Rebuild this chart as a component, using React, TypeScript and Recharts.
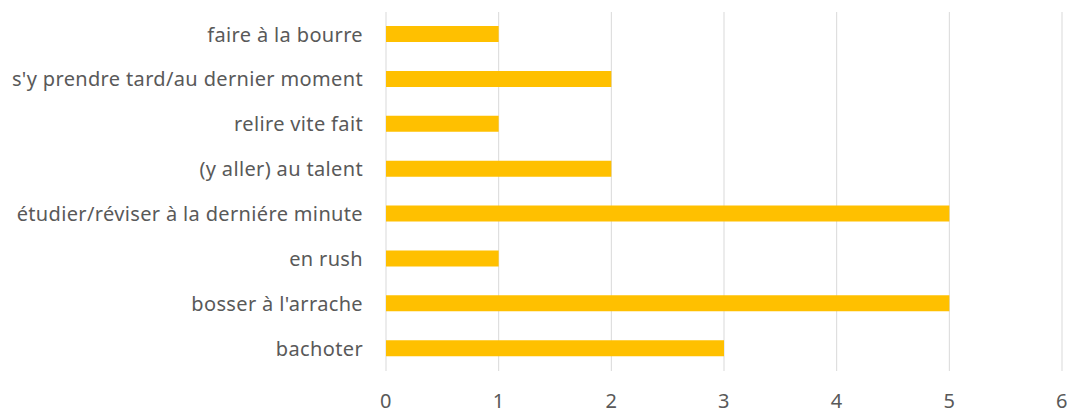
import React from "react";
import { BarChart, Bar, XAxis, YAxis, CartesianGrid } from "recharts";

const categories = [
  "faire à la bourre",
  "s'y prendre tard/au dernier moment",
  "relire vite fait",
  "(y aller) au talent",
  "étudier/réviser à la derniére minute",
  "en rush",
  "bosser à l'arrache",
  "bachoter",
];
const values = [1, 2, 1, 2, 5, 1, 5, 3];
const xTicks = [0, 1, 2, 3, 4, 5, 6];

const data = categories.map((name, i) => ({ name, value: values[i] }));

const tickStyle = { fill: "#595959", fontSize: 20, fontFamily: "Noto Sans", letterSpacing: "0.35px" };

export default function App() {
  return (
    <div style={{ position: "absolute", left: 0, top: 0, width: 1067, height: 409, background: "#fff" }}>
      <BarChart
        width={1067}
        height={409}
        data={data}
        layout="vertical"
        margin={{ top: 12, right: 5, bottom: 0, left: 0 }}
      >
        <CartesianGrid horizontal={false} stroke="#d9d9d9" />
        <XAxis
          type="number"
          domain={[0, 6]}
          ticks={xTicks}
          height={38}
          axisLine={false}
          tickLine={false}
          tickSize={0}
          tickMargin={23}
          tick={tickStyle}
          interval={0}
        />
        <YAxis
          type="category"
          dataKey="name"
          width={386}
          axisLine={false}
          tickLine={false}
          tickSize={0}
          tickMargin={23}
          interval={0}
          tick={tickStyle}
        />
        <Bar dataKey="value" fill="#FFC000" barSize={16} isAnimationActive={false} />
      </BarChart>
    </div>
  );
}
